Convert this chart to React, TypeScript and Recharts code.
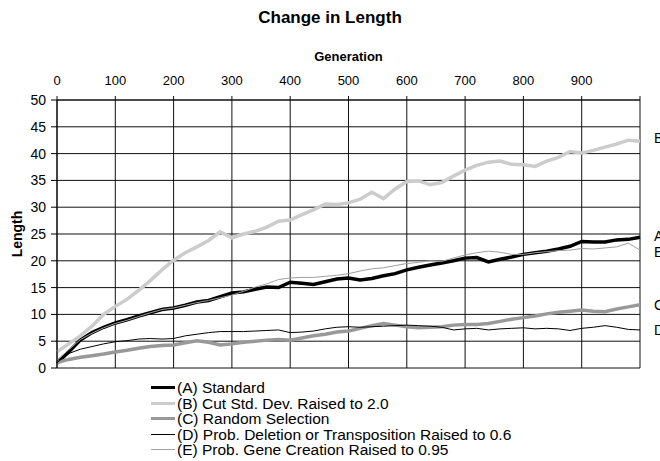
import React from 'react'
import { LineChart, Line, XAxis, YAxis, CartesianGrid } from 'recharts'

const generations = [
    0, 20, 40, 60, 80, 100, 120, 140, 160, 180, 200, 220, 240, 260, 280, 300, 320, 340, 360, 380, 400,
    420, 440, 460, 480, 500, 520, 540, 560, 580, 600, 620, 640, 660, 680, 700, 720, 740, 760, 780, 800,
    820, 840, 860, 880, 900, 920, 940, 960, 980, 1000,
]

const standard = [
    0.9, 3.0, 5.2, 6.6, 7.6, 8.4, 9.0, 9.7, 10.3, 10.9, 11.2, 11.7, 12.3, 12.6, 13.3, 14.0, 14.2, 14.7, 15.1, 15.0, 16.0,
    15.8, 15.6, 16.1, 16.6, 16.8, 16.4, 16.7, 17.2, 17.6, 18.3, 18.8, 19.2, 19.6, 20.0, 20.5, 20.6, 19.8, 20.3, 20.7, 21.2,
    21.5, 21.8, 22.2, 22.7, 23.6, 23.5, 23.5, 23.9, 24.0, 24.4,
]

const cutStdDev = [
    3.0, 4.5, 6.0, 7.8, 10.0, 11.5, 12.8, 14.5, 16.3, 18.3, 20.1, 21.5, 22.6, 23.8, 25.4, 24.3, 25.0, 25.5, 26.3, 27.4, 27.6,
    28.6, 29.5, 30.6, 30.5, 30.8, 31.5, 32.8, 31.6, 33.4, 34.8, 34.9, 34.2, 34.6, 35.8, 36.9, 37.8, 38.4, 38.6, 38.0, 37.9,
    37.6, 38.6, 39.3, 40.4, 40.1, 40.6, 41.2, 41.8, 42.5, 42.3,
]

const randomSelection = [
    1.0, 1.6, 2.0, 2.3, 2.6, 3.0, 3.3, 3.7, 4.0, 4.2, 4.3, 4.7, 5.1, 4.8, 4.3, 4.5, 4.8, 5.0, 5.2, 5.3, 5.2,
    5.6, 6.0, 6.3, 6.7, 6.9, 7.4, 7.9, 8.3, 8.0, 7.7, 7.5, 7.6, 7.7, 8.0, 8.1, 8.1, 8.3, 8.7, 9.1, 9.4,
    9.7, 10.1, 10.4, 10.6, 10.8, 10.6, 10.5, 11.0, 11.4, 11.8,
]

const deletionTransposition = [
    1.0, 2.7, 3.5, 4.0, 4.5, 4.9, 5.1, 5.4, 5.5, 5.4, 5.5, 6.0, 6.3, 6.6, 6.8, 6.8, 6.8, 6.9, 7.0, 7.1, 6.6,
    6.7, 6.9, 7.3, 7.6, 7.7, 7.6, 7.7, 7.8, 7.9, 8.0, 7.9, 7.8, 7.6, 7.1, 7.3, 7.4, 7.1, 7.3, 7.4, 7.5,
    7.3, 7.4, 7.3, 7.0, 7.4, 7.6, 7.9, 7.6, 7.2, 7.1,
]

const geneCreation = [
    1.5, 3.4, 5.3, 6.5, 7.5, 8.3, 8.9, 9.6, 10.3, 10.9, 11.2, 11.7, 12.2, 12.6, 13.1, 13.6, 14.3, 15.1, 15.7, 16.5, 16.8,
    16.9, 16.9, 17.1, 17.3, 17.6, 18.1, 18.5, 18.7, 19.1, 19.5, 19.7, 20.0, 19.9, 20.5, 21.1, 21.5, 21.8, 21.6, 21.2, 21.2,
    21.5, 21.7, 21.9, 22.0, 22.3, 22.2, 22.4, 22.6, 23.3, 22.0,
]

const xTicks = [0, 100, 200, 300, 400, 500, 600, 700, 800, 900, 1000]
const yTicks = [0, 5, 10, 15, 20, 25, 30, 35, 40, 45, 50]

const series = [
    { key: 'a', name: '(A) Standard', color: '#000000', width: 3.5 },
    { key: 'b', name: '(B) Cut Std. Dev. Raised to 2.0', color: '#cccccc', width: 3.5 },
    { key: 'c', name: '(C) Random Selection', color: '#999999', width: 3.5 },
    { key: 'd', name: '(D) Prob. Deletion or Transposition Raised to 0.6', color: '#000000', width: 1 },
    { key: 'e', name: '(E) Prob. Gene Creation Raised to 0.95', color: '#a0a0a0', width: 1 },
]

const data = generations.map((g, i) => ({
    gen: g,
    a: standard[i],
    b: cutStdDev[i],
    c: randomSelection[i],
    d: deletionTransposition[i],
    e: geneCreation[i],
}))

const font = '"Liberation Sans", Arial, sans-serif'

// letters at the right edge, next to the last value of each series (cut off by the page edge)
const endLabels = [
    { tag: 'B', value: cutStdDev[cutStdDev.length - 1] + 0.6 },
    { tag: 'A', value: standard[standard.length - 1] + 0.2 },
    { tag: 'E', value: geneCreation[geneCreation.length - 1] - 0.3 },
    { tag: 'C', value: randomSelection[randomSelection.length - 1] },
    { tag: 'D', value: deletionTransposition[deletionTransposition.length - 1] },
]

export default function App() {
    const top = 100
    const bottom = 368
    const toY = (v: number) => bottom - ((bottom - top) * v) / 50

    return (
        <div
            style={{
                position: 'absolute',
                left: 0,
                top: 0,
                width: 660,
                height: 461,
                overflow: 'hidden',
                background: '#fff',
                fontFamily: font,
            }}
        >
            <div
                style={{
                    position: 'absolute',
                    top: 8,
                    width: 660,
                    textAlign: 'center',
                    fontWeight: 'bold',
                    fontSize: 17,
                }}
            >
                Change in Length
            </div>
            <div
                style={{
                    position: 'absolute',
                    top: 49,
                    left: 57,
                    width: 583,
                    textAlign: 'center',
                    fontWeight: 'bold',
                    fontSize: 13,
                }}
            >
                Generation
            </div>
            <div
                style={{
                    position: 'absolute',
                    left: 17,
                    top: 234,
                    transform: 'translate(-50%, -50%) rotate(-90deg)',
                    fontWeight: 'bold',
                    fontSize: 14,
                }}
            >
                Length
            </div>

            <div style={{ position: 'absolute', left: 0, top: 0 }}>
                <LineChart width={660} height={461} data={data} margin={{ top: 70, right: 20, bottom: 93, left: 0 }}>
                    <CartesianGrid stroke="#111" strokeWidth={1} />
                    <XAxis
                        dataKey="gen"
                        type="number"
                        orientation="top"
                        domain={[0, 1000]}
                        ticks={xTicks}
                        height={30}
                        axisLine={{ stroke: '#111' }}
                        tickLine={{ stroke: '#111' }}
                        tickSize={4}
                        tickMargin={11}
                        tick={{ fill: '#000', fontSize: 13, fontFamily: font }}
                        tickFormatter={(v) => (v === 1000 ? '' : String(v))}
                    />
                    <YAxis
                        type="number"
                        domain={[0, 50]}
                        ticks={yTicks}
                        width={57}
                        axisLine={{ stroke: '#000' }}
                        tickLine={{ stroke: '#000' }}
                        tickSize={6}
                        tickMargin={5}
                        tick={{ fill: '#000', fontSize: 14, fontFamily: font }}
                    />
                    {series.map((s) => (
                        <Line
                            key={s.key}
                            dataKey={s.key}
                            stroke={s.color}
                            strokeWidth={s.width}
                            dot={false}
                            type="linear"
                            isAnimationActive={false}
                        />
                    ))}
                </LineChart>
            </div>

            {endLabels.map((l) => (
                <div
                    key={l.tag}
                    style={{
                        position: 'absolute',
                        left: 654,
                        top: toY(l.value) - 8,
                        fontSize: 14,
                        lineHeight: '16px',
                    }}
                >
                    {l.tag}
                </div>
            ))}

            <div style={{ position: 'absolute', left: 151, top: 380 }}>
                {series.map((s) => (
                    <div key={s.key} style={{ display: 'flex', alignItems: 'center', height: 15.5 }}>
                        <div style={{ width: 24, height: s.width > 2 ? 3 : 1, background: s.color, marginRight: 2 }} />
                        <span style={{ fontSize: 15.5, lineHeight: '15.5px', whiteSpace: 'nowrap' }}>{s.name}</span>
                    </div>
                ))}
            </div>
        </div>
    )
}
